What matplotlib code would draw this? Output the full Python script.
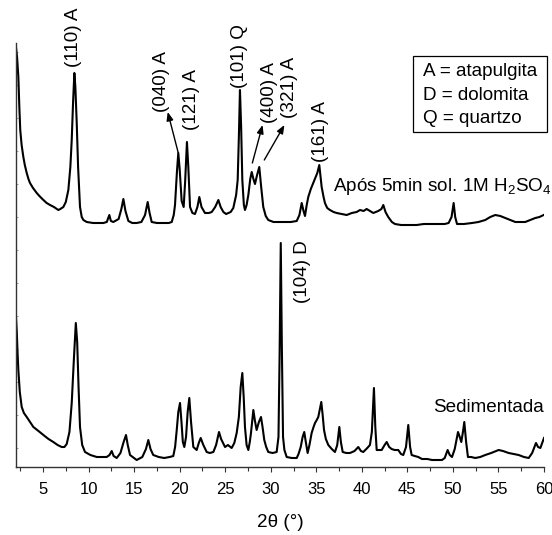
import matplotlib
matplotlib.use("Agg")
import matplotlib.pyplot as plt
from matplotlib.patches import Rectangle

plt.rcParams['font.family'] = ['Liberation Sans', 'DejaVu Sans']
plt.rcParams['mathtext.fontset'] = 'custom'
plt.rcParams['mathtext.rm'] = 'Liberation Sans'
plt.rcParams['mathtext.it'] = 'Liberation Sans:italic'

# ---------------- data (arbitrary intensity units) -------------
two_theta_upper = [2.0, 2.15, 2.29, 2.4, 2.5, 2.65, 2.84, 3.0, 3.21, 3.4, 3.57, 3.9, 4.31, 4.6, 5.04,
                   5.4, 5.77, 6.2, 6.68, 6.9, 7.23, 7.5, 7.78, 8.0, 8.15, 8.3, 8.44, 8.55, 8.7, 8.85,
                   9.06, 9.25, 9.43, 9.8, 10.5, 11.2, 11.62, 12.0, 12.28, 12.45, 12.72, 13.3, 13.6,
                   13.82, 14.05, 14.37, 14.8, 15.28, 15.8, 16.2, 16.49, 16.7, 16.93, 17.5, 18.2, 18.8,
                   19.13, 19.35, 19.49, 19.7, 19.85, 20.0, 20.22, 20.44, 20.6, 20.8, 20.95, 21.14,
                   21.4, 21.68, 21.95, 22.16, 22.4, 22.78, 23.2, 23.52, 23.9, 24.25, 24.5, 24.8, 25.1,
                   25.34, 25.6, 25.89, 26.2, 26.37, 26.5, 26.62, 26.75, 26.88, 27.05, 27.17, 27.35,
                   27.54, 27.75, 27.91, 28.1, 28.27, 28.5, 28.74, 28.95, 29.18, 29.45, 29.73, 30.3,
                   30.83, 31.5, 32.2, 32.85, 33.15, 33.4, 33.6, 33.76, 33.95, 34.12, 34.4, 34.67, 34.9,
                   35.11, 35.33, 35.45, 35.59, 35.8, 35.95, 36.2, 36.5, 36.9, 37.24, 37.8, 38.34, 38.9,
                   39.43, 39.8, 40.2, 40.53, 40.9, 41.26, 41.8, 42.15, 42.36, 42.6, 42.9, 43.3, 43.64,
                   44.3, 44.92, 45.5, 46.02, 46.8, 47.6, 48.4, 49.1, 49.53, 49.85, 50.08, 50.25, 50.45,
                   51.2, 52.1, 52.8, 53.55, 54.1, 54.65, 55.2, 55.75, 56.3, 56.85, 57.4, 57.94, 58.5,
                   59.04, 59.5, 59.96]
intensity_upper = [422, 410, 390, 360, 337, 322, 310, 302, 294, 288, 284, 279, 274, 271, 267,
                   264, 262, 260, 257, 258, 260, 265, 277, 300, 327, 365, 394, 380, 344, 300,
                   260, 250, 247, 245, 244, 244, 244, 245, 252, 246, 245, 248, 258,
                   268, 256, 246, 244, 244, 245, 252, 265, 254, 245, 244, 244, 244,
                   245, 252, 262, 295, 314, 298, 266, 260, 285, 325, 300, 260,
                   254, 253, 260, 270, 260, 254, 254, 255, 260, 267, 260, 255, 253,
                   254, 255, 259, 272, 287, 330, 377, 340, 287, 262, 257, 262,
                   272, 288, 295, 288, 283, 292, 300, 280, 260, 251, 247, 245,
                   245, 245, 245, 246, 252, 264, 256, 251, 262, 270, 278, 284, 289,
                   294, 302, 292, 280, 270, 264, 259, 257, 255, 254, 253, 252, 254,
                   255, 257, 256, 258, 256, 254, 256, 258, 262, 255, 250, 245, 243,
                   242, 242, 242, 242, 243, 243, 243, 243, 244, 250, 264, 250, 243,
                   243, 244, 245, 247, 250, 252, 251, 249, 247, 245, 245, 245, 247,
                   249, 250, 252]

two_theta_lower = [2.0, 2.12, 2.2, 2.29, 2.45, 2.66, 2.9, 3.21, 3.5, 3.94, 4.5, 5.04, 5.6, 6.13,
                   6.6, 7.05, 7.35, 7.6, 7.9, 8.15, 8.4, 8.6, 8.75, 8.9, 9.06, 9.3, 9.61, 10.2,
                   10.9, 11.5, 11.99, 12.3, 12.54, 12.75, 13.09, 13.5, 13.85, 14.11, 14.3, 14.55,
                   15.28, 15.9, 16.3, 16.56, 16.8, 17.1, 17.7, 18.3, 18.9, 19.3, 19.5, 19.68, 19.85,
                   20.04, 20.2, 20.35, 20.51, 20.7, 20.88, 21.06, 21.25, 21.5, 21.87, 22.1, 22.31,
                   22.6, 22.97, 23.3, 23.7, 24.0, 24.32, 24.55, 24.98, 25.3, 25.71, 26.0, 26.26,
                   26.5, 26.7, 26.88, 27.03, 27.17, 27.35, 27.54, 27.7, 27.83, 28.09, 28.25, 28.45,
                   28.7, 28.93, 29.1, 29.29, 29.5, 29.73, 30.2, 30.65, 30.85, 30.97, 31.1, 31.22,
                   31.35, 31.5, 31.75, 32.3, 32.85, 33.05, 33.29, 33.5, 33.68, 33.85, 34.05, 34.25,
                   34.49, 34.7, 34.86, 35.05, 35.22, 35.4, 35.55, 35.7, 35.85, 36.05, 36.32, 36.7,
                   37.05, 37.3, 37.53, 37.7, 37.9, 38.3, 38.7, 39.2, 39.61, 39.9, 40.16, 40.6, 40.89,
                   41.1, 41.33, 41.48, 41.63, 42.0, 42.18, 42.5, 42.73, 43.0, 43.27, 43.6, 44.0, 44.3,
                   44.55, 44.85, 45.1, 45.3, 45.47, 45.8, 46.2, 46.6, 47.2, 47.7, 48.3, 48.8, 49.1,
                   49.42, 49.65, 49.9, 50.2, 50.56, 50.75, 50.92, 51.1, 51.25, 51.45, 51.65, 52.0,
                   52.45, 53.0, 53.55, 54.2, 55.02, 55.5, 56.12, 56.7, 57.22, 57.8, 58.32, 58.7,
                   59.12, 59.35, 59.6, 59.8, 60.0]
intensity_lower = [155, 135, 115, 97, 75, 60, 54, 50, 46, 40, 36, 32, 28, 25,
                   22, 20, 20, 23, 35, 64, 110, 144, 125, 80, 40, 22, 15, 12,
                   10, 10, 10, 12, 16, 11, 9, 14, 25, 32, 22, 12,
                   7, 10, 18, 27, 18, 12, 10, 9, 10, 11, 20, 37, 55,
                   64, 45, 25, 20, 30, 55, 69, 45, 20, 17, 24, 29,
                   22, 15, 14, 15, 22, 35, 28, 20, 22, 19, 24, 34,
                   50, 80, 94, 70, 40, 22, 17, 25, 34, 57, 47, 37,
                   45, 50, 40, 27, 20, 15, 14, 15, 30, 110, 224, 120,
                   30, 17, 10, 9, 9, 13, 20, 30, 35, 25, 14, 22,
                   34, 40, 44, 47, 50, 58, 65, 52, 37, 28, 22, 18,
                   15, 22, 40, 25, 15, 14, 14, 16, 20, 16, 15, 19, 22,
                   35, 79, 40, 17, 17, 17, 22, 25, 20, 18, 17, 17, 13,
                   12, 20, 42, 20, 12, 11, 10, 8, 8, 7, 7, 7, 9,
                   17, 12, 10, 18, 35, 30, 25, 35, 45, 25, 10, 10,
                   9, 10, 12, 14, 17, 16, 14, 13, 12, 10, 9, 14,
                   24, 20, 19, 24, 29]

x_ticks = [5, 10, 15, 20, 25, 30, 35, 40, 45, 50, 55, 60]
x_tick_labels = ['5', '10', '15', '20', '25', '30', '35', '40', '45', '50', '55', '60']
peak_labels = ['(110) A', '(040) A', '(121) A', '(101) Q', '(400) A', '(321) A', '(161) A', '(104) D']
legend_lines = ['A = atapulgita', 'D = dolomita', 'Q = quartzo']
series_names = ['Após 5min sol. 1M $\\mathregular{H_2SO_4}$', 'Sedimentada']

# ---------------- figure --------------------------------------------------------------
W, H = 552, 535
fig = plt.figure(figsize=(W / 100, H / 100), dpi=100)
ax = fig.add_axes([15.7 / W, 1 - 467 / H, (544 - 15.7) / W, 424 / H])

ax.plot(two_theta_upper, intensity_upper, color='black', lw=1.5)
ax.plot(two_theta_lower, intensity_lower, color='black', lw=1.5)

ax.set_xlim(2, 60)
ax.set_ylim(0, 424)
ax.spines['top'].set_visible(False)
ax.spines['right'].set_visible(False)
for s in ('left', 'bottom'):
    ax.spines[s].set_linewidth(1.0)
    ax.spines[s].set_color('#333333')

ax.set_xticks(x_ticks)
ax.set_xticklabels(x_tick_labels)
ax.set_xticks([2.5 + 5 * i for i in range(12)], minor=True)
ax.tick_params(axis='x', which='major', direction='out', length=3.8, width=0.8,
               labelsize=12, pad=7, color='#333333')
ax.tick_params(axis='x', which='minor', direction='out', length=2.6, width=0.8,
               color='#333333')
ax.set_yticks([19, 52, 85, 118, 151, 184, 217, 250, 283, 316, 349, 382, 415])
ax.tick_params(axis='y', which='major', direction='in', length=1.5, width=0.5,
               labelleft=False, color='#777777')
ax.set_xlabel('2θ (°)', fontsize=13.6, labelpad=12)

fs = 13.6
# peak annotations (rotated)
label_pos = [(8.3, 400), (18.0, 355), (21.33, 337), (26.6, 379),
             (29.9, 344), (32.1, 349), (35.5, 305), (33.5, 164)]
for txt, (x, y) in zip(peak_labels, label_pos):
    ax.text(x, y, txt, rotation=90, ha='center', va='bottom', fontsize=fs)

arrow_kw = dict(arrowstyle='-|>,head_length=0.5,head_width=0.2', color='black', lw=1.0,
                shrinkA=0, shrinkB=0)
ax.annotate('', xy=(18.69, 355), xytext=(19.85, 314), arrowprops=arrow_kw)
ax.annotate('', xy=(29.1, 342), xytext=(27.98, 304), arrowprops=arrow_kw)
ax.annotate('', xy=(31.5, 342), xytext=(29.29, 307), arrowprops=arrow_kw)

# series names
ax.text(36.83, 276, series_names[0], ha='left', va='baseline', fontsize=fs)
ax.text(47.8, 55, series_names[1], ha='left', va='baseline', fontsize=fs)

# legend box
ax.add_patch(Rectangle((45.58, 335), 60.36 - 45.58, 411 - 335, fill=False,
                       edgecolor='black', lw=0.9, clip_on=False))
for txt, y in zip(legend_lines, [396, 372, 349]):
    ax.text(46.68, y, txt, ha='left', va='center', fontsize=fs)

fig.savefig('out.png', dpi=100)
